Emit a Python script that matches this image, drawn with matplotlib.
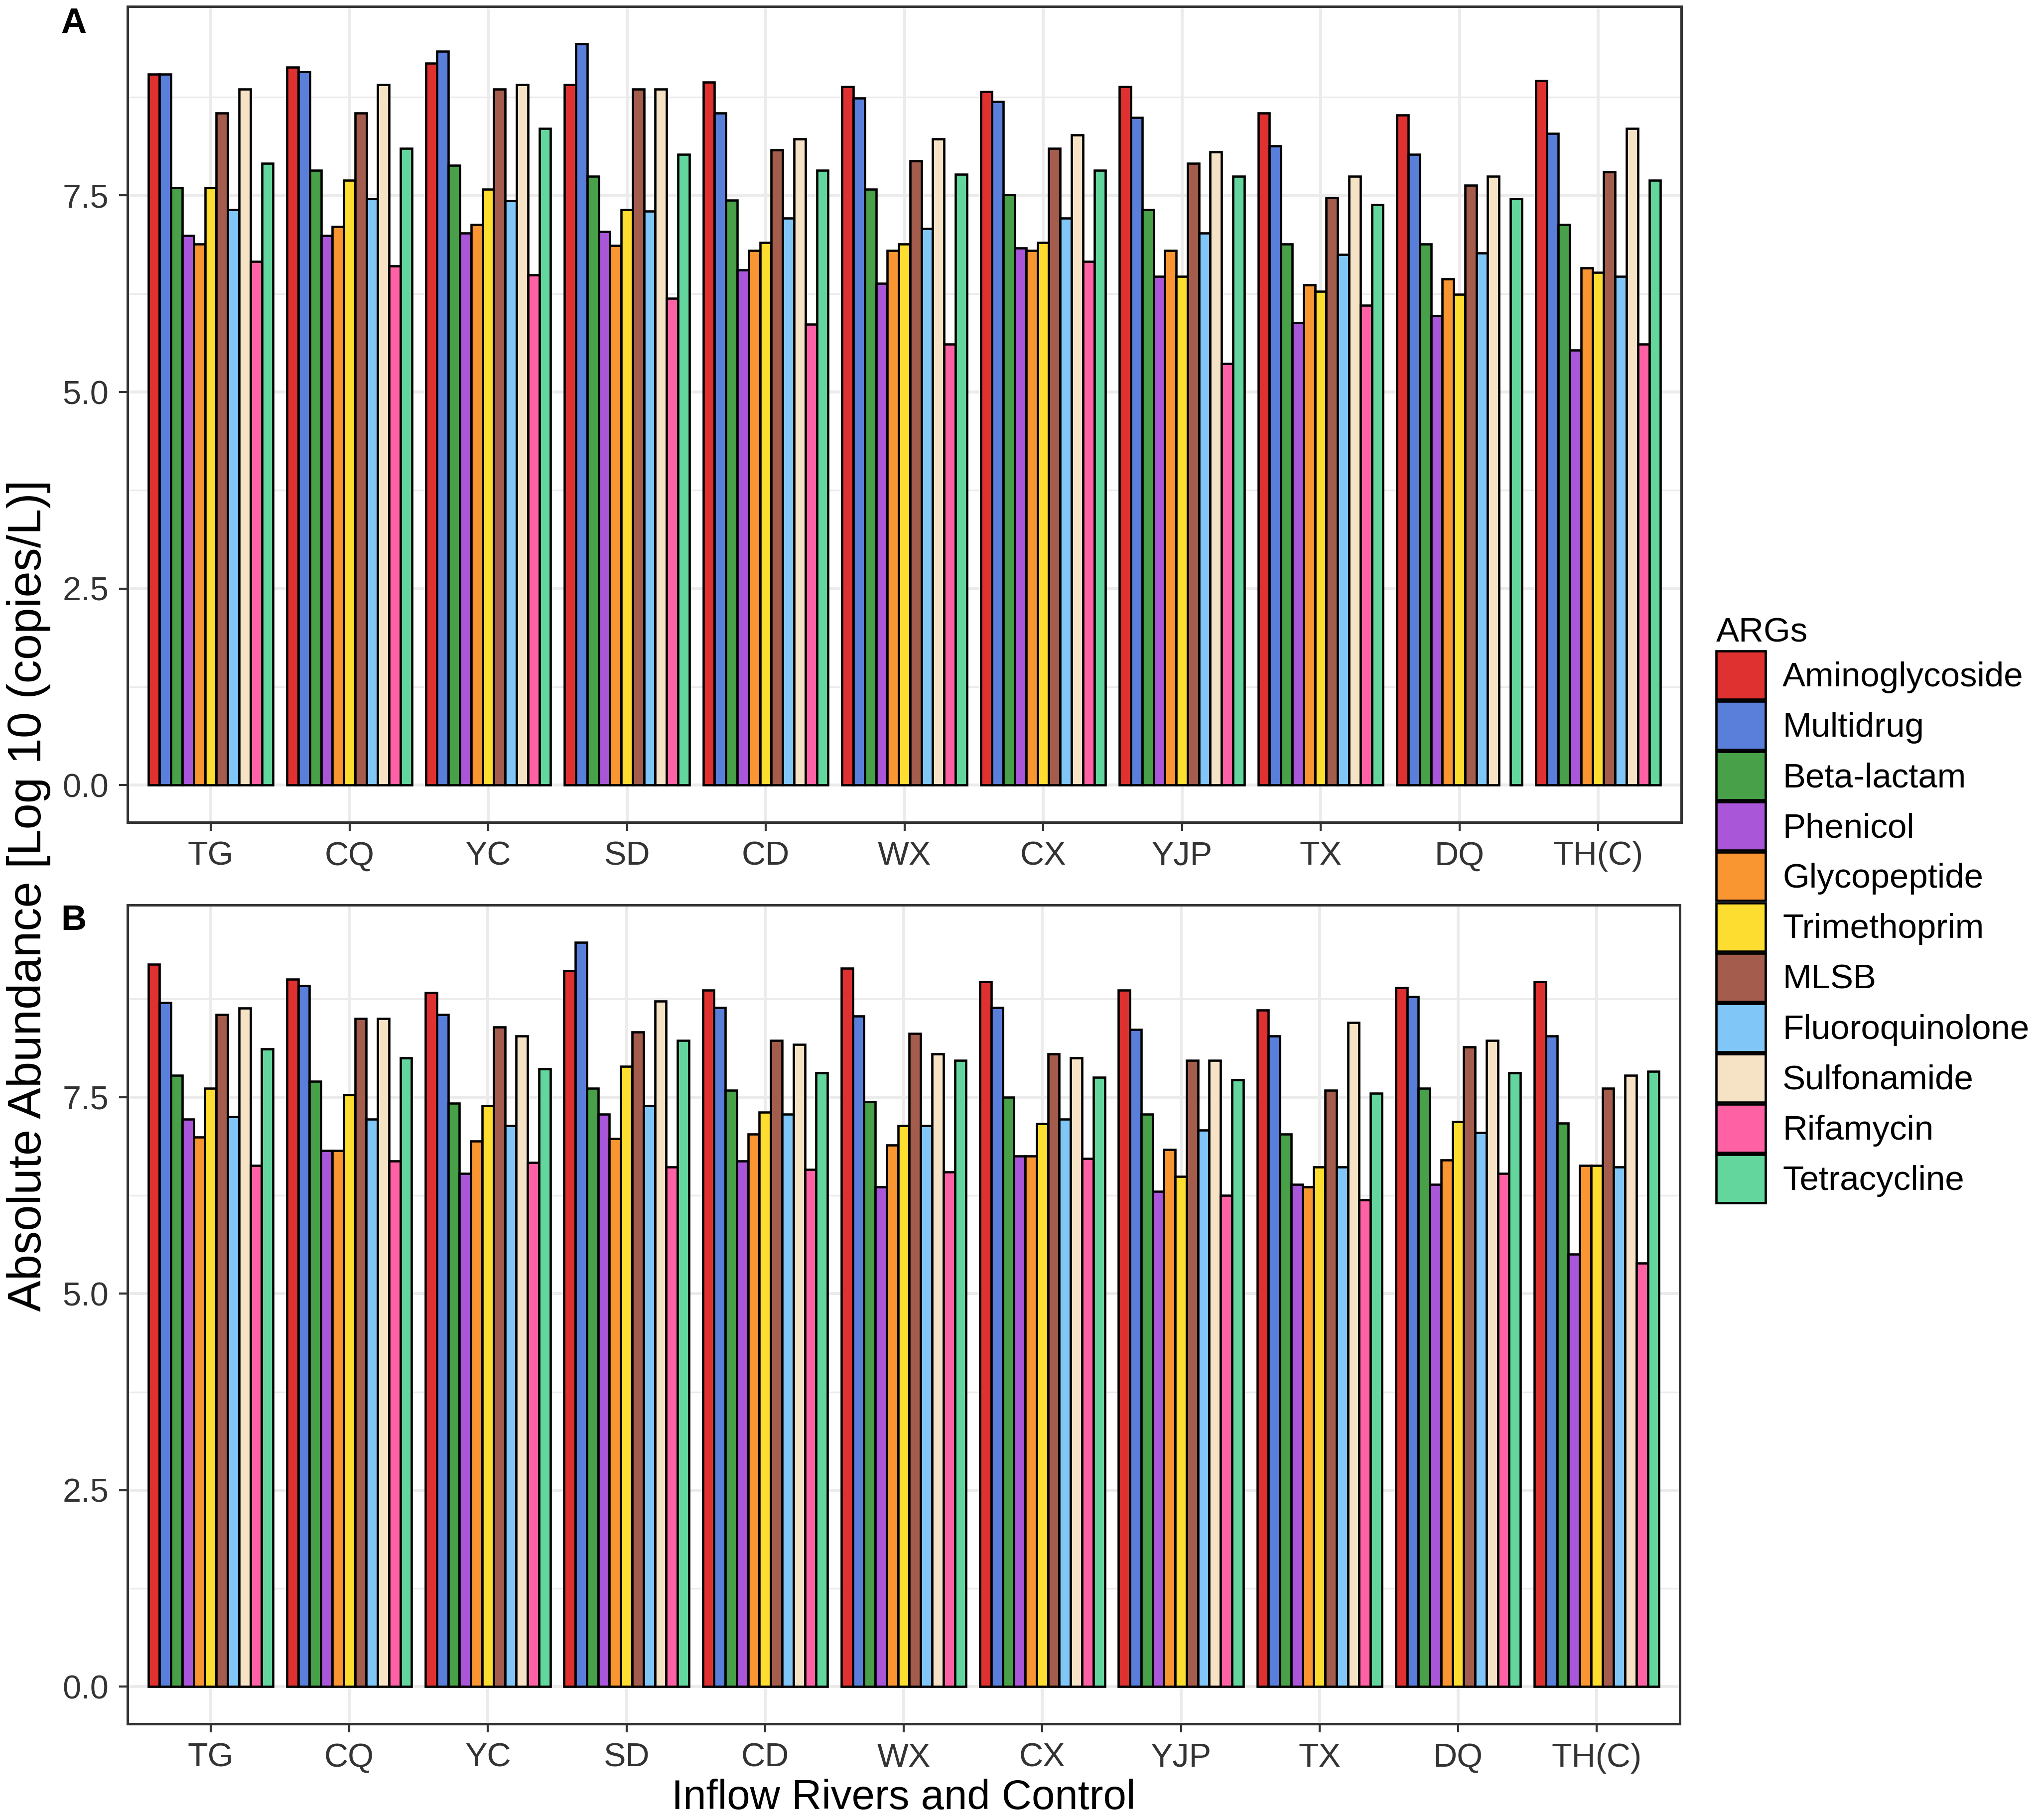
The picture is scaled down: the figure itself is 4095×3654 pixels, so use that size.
import matplotlib
matplotlib.use("Agg")
import matplotlib.pyplot as plt
import numpy as np
from matplotlib.patches import Patch

plt.rcParams["font.family"] = ["Liberation Sans", "DejaVu Sans"]

sites = ["TG", "CQ", "YC", "SD", "CD", "WX", "CX", "YJP", "TX", "DQ", "TH(C)"]
args = ["Aminoglycoside", "Multidrug", "Beta-lactam", "Phenicol", "Glycopeptide",
        "Trimethoprim", "MLSB", "Fluoroquinolone", "Sulfonamide", "Rifamycin",
        "Tetracycline"]
arg_colors = ["#E03131", "#5A7FDB", "#48A048", "#A957D8", "#FA9632", "#FDDD2F",
              "#A45C4C", "#80C6F7", "#F6E3C5", "#FF62A4", "#62D69C"]

# log10 copies/L, one row per ARG class, columns follow `sites`
panel_a = np.array([
    [9.04, 9.13, 9.18, 8.91, 8.94, 8.88, 8.82, 8.88, 8.55, 8.52, 8.96],
    [9.04, 9.07, 9.33, 9.43, 8.55, 8.74, 8.69, 8.49, 8.13, 8.02, 8.29],
    [7.60, 7.82, 7.88, 7.74, 7.44, 7.58, 7.51, 7.32, 6.88, 6.88, 7.13],
    [6.99, 6.99, 7.02, 7.04, 6.55, 6.38, 6.83, 6.47, 5.88, 5.97, 5.53],
    [6.88, 7.10, 7.13, 6.86, 6.80, 6.80, 6.80, 6.80, 6.36, 6.44, 6.58],
    [7.60, 7.69, 7.58, 7.32, 6.90, 6.88, 6.90, 6.47, 6.28, 6.24, 6.52],
    [8.55, 8.55, 8.85, 8.85, 8.08, 7.94, 8.10, 7.91, 7.47, 7.63, 7.80],
    [7.32, 7.46, 7.43, 7.30, 7.21, 7.08, 7.21, 7.02, 6.75, 6.77, 6.47],
    [8.85, 8.91, 8.91, 8.85, 8.22, 8.22, 8.27, 8.05, 7.74, 7.74, 8.35],
    [6.66, 6.60, 6.49, 6.19, 5.86, 5.61, 6.66, 5.36, 6.10, np.nan, 5.61],
    [7.91, 8.10, 8.35, 8.02, 7.82, 7.77, 7.82, 7.74, 7.38, 7.46, 7.69],
])

panel_b = np.array([
    [9.19, 9.00, 8.83, 9.11, 8.86, 9.14, 8.97, 8.86, 8.61, 8.89, 8.97],
    [8.70, 8.92, 8.55, 9.47, 8.64, 8.53, 8.64, 8.36, 8.28, 8.78, 8.28],
    [7.78, 7.70, 7.42, 7.61, 7.59, 7.44, 7.50, 7.28, 7.03, 7.61, 7.17],
    [7.22, 6.82, 6.53, 7.28, 6.69, 6.36, 6.75, 6.30, 6.39, 6.39, 5.50],
    [6.99, 6.82, 6.94, 6.97, 7.03, 6.89, 6.75, 6.83, 6.36, 6.70, 6.63],
    [7.61, 7.53, 7.39, 7.89, 7.31, 7.14, 7.16, 6.49, 6.61, 7.19, 6.63],
    [8.55, 8.50, 8.39, 8.33, 8.22, 8.31, 8.05, 7.97, 7.59, 8.14, 7.61],
    [7.25, 7.22, 7.14, 7.39, 7.28, 7.14, 7.22, 7.08, 6.61, 7.05, 6.61],
    [8.63, 8.50, 8.28, 8.72, 8.17, 8.05, 8.00, 7.97, 8.45, 8.22, 7.78],
    [6.63, 6.69, 6.67, 6.61, 6.58, 6.55, 6.72, 6.25, 6.19, 6.53, 5.39],
    [8.11, 8.00, 7.86, 8.22, 7.81, 7.97, 7.75, 7.72, 7.55, 7.81, 7.83],
])

TICK_FS = 16
GRID = "#EBEBEB"


def draw_panel(ax, values):
    n = len(args)
    x = np.arange(1, len(sites) + 1)
    width = 0.9 / n
    for i in range(n):
        ax.bar(x + (i - (n - 1) / 2) * width, values[i], width,
               color=arg_colors[i], edgecolor="black", linewidth=1.1, zorder=3)
    top = np.nanmax(values)
    ax.set_xlim(0.4, len(sites) + 0.6)
    ax.set_ylim(-0.05 * top, 1.05 * top)
    ax.set_xticks(x)
    ax.set_xticklabels(sites)
    ax.set_yticks([0, 2.5, 5, 7.5])
    ax.set_yticklabels(["0.0", "2.5", "5.0", "7.5"])
    ax.set_yticks([1.25, 3.75, 6.25, 8.75], minor=True)
    ax.grid(True, which="major", color=GRID, lw=1.4, zorder=0)
    ax.grid(True, which="minor", axis="y", color=GRID, lw=0.8, zorder=0)
    ax.tick_params(axis="both", which="major", length=4, width=1.0,
                   color="#333333", labelsize=TICK_FS, labelcolor="#333333",
                   pad=5)
    ax.tick_params(which="minor", length=0)
    for sp in ax.spines.values():
        sp.set_color("#333333")
        sp.set_linewidth(1.2)
    ax.set_axisbelow(True)


fig = plt.figure(figsize=(13.65, 12.18), dpi=300)
ax_a = fig.add_axes([0.0625, 0.5482, 0.7617, 0.4482])
ax_b = fig.add_axes([0.0625, 0.0528, 0.7610, 0.4499])
draw_panel(ax_a, panel_a)
draw_panel(ax_b, panel_b)

fig.text(0.036, 0.987, "A", fontsize=17, fontweight="bold", ha="center", va="center")
fig.text(0.036, 0.494, "B", fontsize=17, fontweight="bold", ha="center", va="center")
fig.text(0.014, 0.508, "Absolute Abundance [Log 10 (copies/L)]", fontsize=22.6,
         rotation=90, ha="center", va="center")
fig.text(0.443, 0.012, "Inflow Rivers and Control", fontsize=20,
         ha="center", va="center")

handles = [Patch(facecolor=c, edgecolor="black", linewidth=1.1, label=a)
           for a, c in zip(args, arg_colors)]
leg = fig.legend(handles=handles, loc="center left", bbox_to_anchor=(0.826, 0.50),
                 frameon=False, title="ARGs", fontsize=16.6, title_fontsize=16.6,
                 handlelength=1.43, handleheight=1.78, labelspacing=0.06,
                 handletextpad=0.5, alignment="left")

fig.savefig("out.png", dpi=300)
plt.close(fig)
